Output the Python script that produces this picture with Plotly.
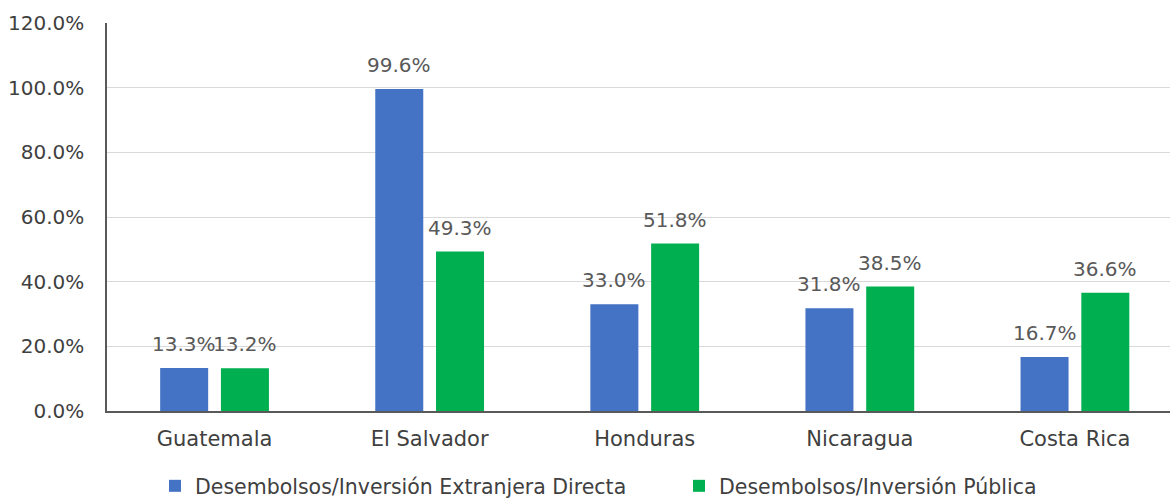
import plotly.graph_objects as go

countries = ["Guatemala", "El Salvador", "Honduras", "Nicaragua", "Costa Rica"]
ied_ratio = [13.3, 99.6, 33.0, 31.8, 16.7]
pub_ratio = [13.2, 49.3, 51.8, 38.5, 36.6]
series_names = ["Desembolsos/Inversión Extranjera Directa",
                "Desembolsos/Inversión Pública"]
y_ticks = [0, 20, 40, 60, 80, 100, 120]

BLUE = "#4472C4"
GREEN = "#00B050"
FONT = "DejaVu Sans"
W, H = 1170, 500

fig = go.Figure()
fig.add_trace(go.Bar(x=countries, y=ied_ratio, name=series_names[0],
                     marker=dict(color=BLUE, line=dict(width=0)), legend="legend"))
fig.add_trace(go.Bar(x=countries, y=pub_ratio, name=series_names[1],
                     marker=dict(color=GREEN, line=dict(width=0)), legend="legend2"))

# value labels above each bar
slot_px = 30.35
for vals, sign in ((ied_ratio, -1), (pub_ratio, 1)):
    for c, v in zip(countries, vals):
        fig.add_annotation(x=c, y=v, xref="x", yref="y",
                           text=f"{v:.1f}%", showarrow=False,
                           xshift=sign * slot_px, yshift=10,
                           yanchor="bottom", xanchor="center",
                           font=dict(family=FONT, size=20, color="#595959"))

legend_common = dict(orientation="h", xref="container", yref="container",
                     yanchor="middle", xanchor="left", y=(H - 486) / H,
                     bgcolor="rgba(0,0,0,0)", itemwidth=30,
                     font=dict(family=FONT, size=20.5, color="#404040"))

fig.update_layout(
    width=W, height=H,
    margin=dict(l=107, r=0, t=23, b=88.5),
    paper_bgcolor="white", plot_bgcolor="white",
    barmode="group", bargap=0.435, bargroupgap=0.21,
    font=dict(family=FONT, size=20, color="#404040"),
    showlegend=True,
    legend=dict(x=155 / W, **legend_common),
    legend2=dict(x=679 / W, **legend_common),
)
fig.update_xaxes(range=[-0.5, 4.442], showline=True, linecolor="#595959", linewidth=1.5,
                 showgrid=False, ticks="", ticklabelstandoff=8,
                 tickfont=dict(family=FONT, size=21, color="#404040"))
fig.update_yaxes(range=[0, 120], tickvals=y_ticks,
                 ticktext=[f"{t:.1f}%" for t in y_ticks],
                 showline=True, linecolor="#595959", linewidth=1.5,
                 showgrid=True, gridcolor="#d9d9d9", gridwidth=1,
                 zeroline=False, ticks="", ticklabelstandoff=17,
                 tickfont=dict(family=FONT, size=20, color="#404040"))

fig.write_html("out.html")
